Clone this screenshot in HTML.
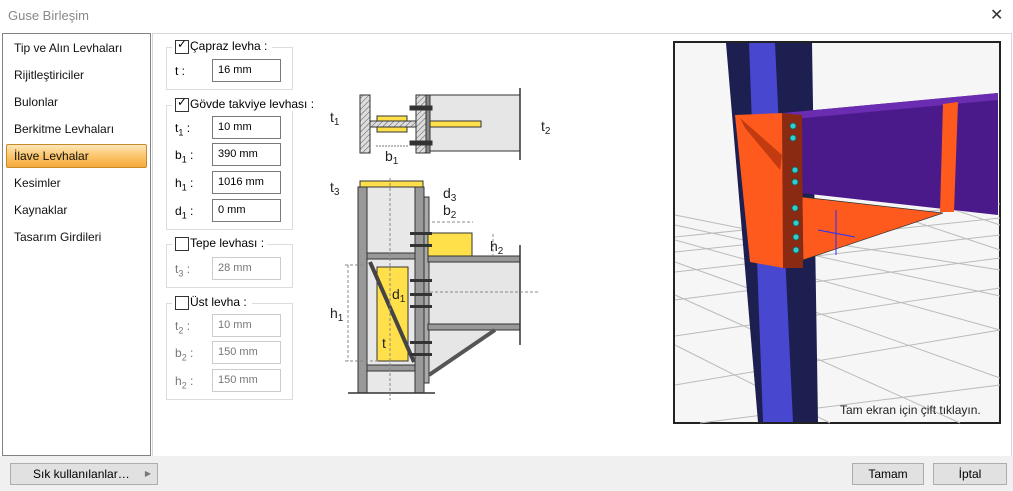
<!DOCTYPE html>
<html><head><meta charset="utf-8">
<style>
body{margin:0;width:1013px;height:491px;background:#fff;font-family:"Liberation Sans",sans-serif;font-size:12px;color:#000;position:relative;overflow:hidden}
.a{position:absolute}
.item{position:absolute;left:14px;font-size:12px;color:#111}
.grp{position:absolute;border:1px solid #dcdcdc}
.cb{position:absolute;width:12px;height:12px;border:1px solid #333;background:#fff}
.inp{position:absolute;width:67px;height:21px;border:1px solid #7a7a7a;background:#fff;font-size:11px;line-height:20px;padding-left:5px;box-sizing:border-box;width:69px;height:23px}
.dis{border-color:#ccc;color:#777}
.lbl{position:absolute;font-size:12px}
.btn{position:absolute;height:20px;background:#e1e1e1;border:1px solid #adadad;text-align:center;line-height:20px;font-size:12px}
</style></head><body>
<div class="a" style="left:8px;top:8px;font-size:13px;color:#888">Guse Birleşim</div>
<div class="a" style="left:990px;top:5px;font-size:16px;color:#333">✕</div>
<div class="a" style="left:152px;top:33px;width:858px;height:422px;border:1px solid #d8d8d8"></div>
<div class="a" style="left:2px;top:33px;width:147px;height:421px;border:1px solid #828282;background:#fff"></div>
<div class="a" style="left:0;top:456px;width:1013px;height:35px;background:#f0f0f0"></div>
<div class="a" style="left:6px;top:144px;width:139px;height:22px;border:1px solid #c98a2a;border-radius:2px;background:linear-gradient(#fde6b8,#fbc56a 50%,#f5a93c)"></div>
<div class="item" style="top:41px">Tip ve Alın Levhaları</div>
<div class="item" style="top:68px">Rijitleştiriciler</div>
<div class="item" style="top:95px">Bulonlar</div>
<div class="item" style="top:122px">Berkitme Levhaları</div>
<div class="item" style="top:149px">İlave Levhalar</div>
<div class="item" style="top:176px">Kesimler</div>
<div class="item" style="top:203px">Kaynaklar</div>
<div class="item" style="top:230px">Tasarım Girdileri</div>

<div class="grp" style="left:166px;top:47px;width:125px;height:41px"></div>
<div class="a" style="left:172px;top:39px;background:#fff;width:100px;height:14px"></div>
<div class="cb" style="left:175px;top:40px"></div><div class="a" style="left:177px;top:37px;font-size:12px">✓</div>
<div class="lbl" style="left:190px;top:39px">Çapraz levha :</div>
<div class="lbl" style="left:175px;top:64px">t :</div>
<div class="inp" style="left:212px;top:59px">16 mm</div>

<div class="grp" style="left:166px;top:105px;width:125px;height:123px"></div>
<div class="a" style="left:172px;top:97px;background:#fff;width:130px;height:14px"></div>
<div class="cb" style="left:175px;top:98px"></div><div class="a" style="left:177px;top:95px;font-size:12px">✓</div>
<div class="lbl" style="left:190px;top:97px">Gövde takviye levhası :</div>
<div class="lbl" style="left:175px;top:121px">t<sub style="font-size:9px">1</sub> :</div>
<div class="inp" style="left:212px;top:116px">10 mm</div>
<div class="lbl" style="left:175px;top:148px">b<sub style="font-size:9px">1</sub> :</div>
<div class="inp" style="left:212px;top:143px">390 mm</div>
<div class="lbl" style="left:175px;top:176px">h<sub style="font-size:9px">1</sub> :</div>
<div class="inp" style="left:212px;top:171px">1016 mm</div>
<div class="lbl" style="left:175px;top:204px">d<sub style="font-size:9px">1</sub> :</div>
<div class="inp" style="left:212px;top:199px">0 mm</div>

<div class="grp" style="left:166px;top:244px;width:125px;height:42px"></div>
<div class="a" style="left:172px;top:236px;background:#fff;width:95px;height:14px"></div>
<div class="cb" style="left:175px;top:237px"></div>
<div class="lbl" style="left:190px;top:236px">Tepe levhası :</div>
<div class="lbl" style="left:175px;top:262px;color:#777">t<sub style="font-size:9px">3</sub> :</div>
<div class="inp dis" style="left:212px;top:257px">28 mm</div>

<div class="grp" style="left:166px;top:303px;width:125px;height:95px"></div>
<div class="a" style="left:172px;top:295px;background:#fff;width:80px;height:14px"></div>
<div class="cb" style="left:175px;top:296px"></div>
<div class="lbl" style="left:190px;top:295px">Üst levha :</div>
<div class="lbl" style="left:175px;top:319px;color:#777">t<sub style="font-size:9px">2</sub> :</div>
<div class="inp dis" style="left:212px;top:314px">10 mm</div>
<div class="lbl" style="left:175px;top:346px;color:#777">b<sub style="font-size:9px">2</sub> :</div>
<div class="inp dis" style="left:212px;top:341px">150 mm</div>
<div class="lbl" style="left:175px;top:374px;color:#777">h<sub style="font-size:9px">2</sub> :</div>
<div class="inp dis" style="left:212px;top:369px">150 mm</div>

<svg class="a" style="left:0;top:0" width="1013" height="491" viewBox="0 0 1013 491">
<defs><pattern id="h" width="4" height="4" patternUnits="userSpaceOnUse" patternTransform="rotate(45)"><rect width="4" height="4" fill="#ddd"/><line x1="0" y1="0" x2="0" y2="4" stroke="#555" stroke-width="1"/></pattern></defs>
<!-- plan -->
<g stroke="#333" stroke-width="1">
<rect x="430" y="95" width="90" height="56" fill="#e6e6e6"/>
<line x1="520" y1="88" x2="520" y2="160" stroke-width="1.5"/>
<rect x="360" y="95" width="10" height="58" fill="url(#h)"/>
<rect x="416" y="95" width="10" height="58" fill="url(#h)"/>
<rect x="370" y="121" width="46" height="6" fill="url(#h)"/>
<rect x="377" y="116" width="30" height="5" fill="#ffe04a"/>
<rect x="377" y="127" width="30" height="5" fill="#ffe04a"/>
<rect x="426" y="95" width="4" height="58" fill="#888"/>
<rect x="430" y="121" width="51" height="6" fill="#ffe04a"/>
<rect x="410" y="106" width="22" height="4" fill="#333"/>
<rect x="410" y="141" width="22" height="4" fill="#333"/>
</g>
<g font-size="14" fill="#222"><text x="330" y="122">t<tspan font-size="10" dy="3">1</tspan></text><text x="385" y="161">b<tspan font-size="10" dy="3">1</tspan></text><text x="541" y="131">t<tspan font-size="10" dy="3">2</tspan></text></g>
<line x1="376" y1="146" x2="408" y2="146" stroke="#777" stroke-dasharray="2,1"/>
<!-- elevation -->
<g stroke="#333">
<rect x="367" y="187" width="48" height="206" fill="#e8e8e8"/>
<rect x="428" y="262" width="92" height="62" fill="#e6e6e6"/>
<polygon points="428,330 495,330 428,375" fill="#e6e6e6"/>
<rect x="358" y="187" width="9" height="206" fill="#999"/>
<rect x="415" y="187" width="9" height="206" fill="#999"/>
<rect x="360" y="181" width="63" height="6" fill="#ffe04a"/>
<rect x="424" y="197" width="5" height="186" fill="#aaa"/>
<rect x="428" y="256" width="92" height="6" fill="#999"/>
<rect x="428" y="324" width="92" height="6" fill="#999"/>
<line x1="429" y1="375" x2="495" y2="330" stroke-width="4" stroke="#555"/>
<rect x="367" y="253" width="48" height="6" fill="#999"/>
<rect x="367" y="365" width="48" height="6" fill="#999"/>
<rect x="428" y="233" width="44" height="23" fill="#ffe04a"/>
<rect x="377" y="267" width="31" height="94" fill="#ffe04a"/>
<line x1="370" y1="262" x2="414" y2="362" stroke-width="4" stroke="#444"/>
<line x1="520" y1="245" x2="520" y2="345" stroke-width="1.5"/>
<line x1="348" y1="393" x2="435" y2="393" stroke-width="1.5"/>
</g>
<g fill="#333"><rect x="410" y="232" width="22" height="3"/><rect x="410" y="244" width="22" height="3"/><rect x="410" y="279" width="22" height="3"/><rect x="410" y="293" width="22" height="3"/><rect x="410" y="305" width="22" height="3"/><rect x="410" y="341" width="22" height="3"/><rect x="410" y="353" width="22" height="3"/></g>
<g stroke="#888" stroke-dasharray="3,2" fill="none"><line x1="390" y1="178" x2="390" y2="400"/><line x1="425" y1="292" x2="540" y2="292"/><line x1="345" y1="265" x2="370" y2="265"/><line x1="345" y1="361" x2="380" y2="361"/><line x1="348" y1="265" x2="348" y2="361"/><line x1="427" y1="222" x2="473" y2="222"/><line x1="493" y1="234" x2="493" y2="256"/></g>
<g font-size="14" fill="#222"><text x="330" y="192">t<tspan font-size="10" dy="3">3</tspan></text><text x="443" y="198">d<tspan font-size="10" dy="3">3</tspan></text><text x="443" y="215">b<tspan font-size="10" dy="3">2</tspan></text><text x="490" y="251">h<tspan font-size="10" dy="3">2</tspan></text><text x="330" y="318">h<tspan font-size="10" dy="3">1</tspan></text><text x="392" y="299">d<tspan font-size="10" dy="3">1</tspan></text><text x="382" y="348">t</text></g>
<!-- 3D view -->
<rect x="674" y="42" width="326" height="381" fill="#f6f6f6" stroke="#222" stroke-width="2"/>
<g stroke="#bbb" stroke-width="1" fill="none">
<path d="M675 237 L1000 204 M675 252 L1000 218 M675 272 L1000 235 M675 300 L1000 258 M675 336 L1000 288 M675 385 L1000 330 M700 423 L1000 385"/>
<path d="M675 215 L760 232 L1000 270 M675 225 L1000 296 M675 240 L1000 330 M675 262 L1000 378 M675 295 L960 423 M675 345 L830 423"/>
<path d="M940 205 L1000 225 M880 210 L1000 250"/>
</g>
<polygon points="726,43 812,43 818,422 758,422" fill="#1c1f4f"/>
<polygon points="749,43 775,43 793,422 763,422" fill="#4747cf"/>
<polygon points="783,113 998,93 998,215 792,192" fill="#4a1a8a"/>
<polygon points="783,113 998,93 998,100 783,120" fill="#6a2cb0"/>
<polygon points="735,115 783,113 783,268 750,262" fill="#ff5a1e"/>
<polygon points="740,118 782,155 780,170 745,128" fill="#c23a10"/>
<polygon points="802,197 943,213 803,260" fill="#ff5a1e" stroke="#333" stroke-width="0.7"/>
<polygon points="782,113 802,115 803,268 783,268" fill="#8b2a12"/>
<polygon points="943,104 958,102 954,212 940,212" fill="#ff5a1e"/>
<g fill="#3cc" stroke="#066" stroke-width="0.7"><circle cx="793" cy="126" r="3"/><circle cx="793" cy="138" r="3"/><circle cx="795" cy="170" r="3"/><circle cx="795" cy="182" r="3"/><circle cx="795" cy="208" r="3"/><circle cx="796" cy="223" r="3"/><circle cx="796" cy="237" r="3"/><circle cx="796" cy="250" r="3"/></g>
<g stroke="#2030ff" stroke-width="1"><line x1="836" y1="210" x2="836" y2="255"/><line x1="818" y1="230" x2="855" y2="237"/></g>
<text x="840" y="414" font-size="12" fill="#222">Tam ekran için çift tıklayın.</text>
</svg>
<div class="btn" style="left:10px;top:463px;width:146px;text-align:left"><span style="margin-left:22px">Sık kullanılanlar…</span><span style="position:absolute;right:6px;color:#777;font-size:8px">▶</span></div>
<div class="btn" style="left:852px;top:463px;width:70px">Tamam</div>
<div class="btn" style="left:933px;top:463px;width:72px">İptal</div>
</body></html>
